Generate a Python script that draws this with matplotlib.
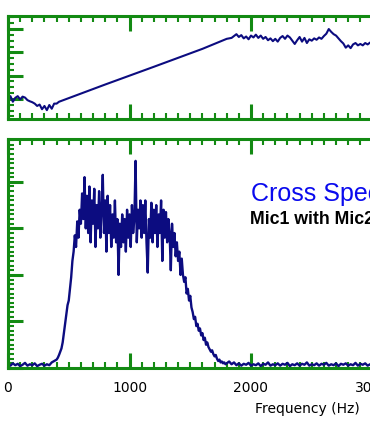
import numpy as np
import matplotlib
matplotlib.use('Agg')
import matplotlib.pyplot as plt
from matplotlib.ticker import MultipleLocator, NullFormatter

# Colours
frame_green = '#138a13'
trace_blue = '#0c0c80'

# ---- Top panel (phase-like trace), values in major-tick units ----
top_head = [-0.05, 0.12, -0.12, 0.05, 0.12, -0.02, 0.1, 0.06, -0.05, -0.1, -0.14,
            -0.2, -0.3, -0.24, -0.44, -0.3, -0.48, -0.26, -0.42, -0.2, -0.2]  # 0..400 step 20
top_ramp_freq = [420, 800, 1200, 1600, 1800]
top_ramp_vals = [-0.12, 0.62, 1.38, 2.15, 2.58]
top_tail = [2.62, 2.7, 2.78, 2.66, 2.74, 2.6, 2.68, 2.56, 2.72, 2.64, 2.76,
            2.62, 2.72, 2.58, 2.66, 2.52, 2.6, 2.48, 2.58, 2.46, 2.62, 2.7,
            2.58, 2.72, 2.64, 2.5, 2.36, 2.52, 2.66, 2.46, 2.62, 2.4, 2.56,
            2.5, 2.6, 2.54, 2.64, 2.58, 2.7, 2.8, 3.0, 2.88, 2.78, 2.72, 2.6,
            2.48, 2.38, 2.2, 2.3, 2.18, 2.34, 2.4, 2.3, 2.36, 2.3, 2.4,
            2.34, 2.42, 2.36, 2.44, 2.38, 2.42, 2.36, 2.4]  # 1840.. step 20

# ---- Bottom panel (cross spectrum magnitude), values in major-tick units ----
floor_lo = [0.08, 0.05, 0.1, 0.06, 0.09, 0.04, 0.07, 0.11, 0.05, 0.08,
            0.06, 0.1, 0.04, 0.07, 0.09, 0.05, 0.08, 0.06, 0.12, 0.15]  # 0..380 step 20
band = [0.18, 0.22, 0.28, 0.35, 0.42, 0.55, 0.75, 0.95, 1.15, 1.35,
        1.45, 1.7, 1.95, 2.3, 2.5, 2.85, 2.6, 3.15, 2.8, 3.4,
        3.1, 3.75, 3.2, 4.1, 3.0, 3.7, 2.9, 3.9, 2.7, 3.6,
        3.1, 3.85, 2.6, 3.5, 3.0, 3.8, 2.8, 3.4, 4.15, 2.9,
        3.6, 2.5, 3.7, 2.9, 3.5, 2.6, 3.3, 2.8, 3.6, 2.7,
        3.2, 2.0, 3.1, 2.6, 3.3, 2.7, 3.2, 2.5, 3.4, 2.8,
        3.3, 2.6, 3.5, 2.9, 3.2, 4.45, 2.7, 3.4, 3.0, 3.6,
        2.8, 3.5, 2.9, 3.6, 2.7, 2.05, 3.2, 2.8, 3.55, 2.7,
        3.4, 2.9, 3.5, 2.6, 3.3, 2.9, 3.6, 2.3, 3.4, 2.8,
        3.35, 2.7, 3.2, 2.9, 2.1, 3.1, 2.6, 2.9, 2.4, 2.7,
        2.3, 2.5, 2.0, 2.35, 2.0, 1.85, 1.95, 1.6, 1.7, 1.45,
        1.55, 1.3, 1.2, 1.05, 1.1, 0.9, 0.95, 0.8, 0.85, 0.7,
        0.75, 0.6, 0.65, 0.5, 0.55, 0.45, 0.4, 0.35, 0.38, 0.3,
        0.25, 0.28, 0.2, 0.15, 0.18, 0.12, 0.14, 0.1, 0.12, 0.08]  # 400.. step 10
floor_hi = [0.1, 0.14, 0.08, 0.12, 0.06, 0.1, 0.05, 0.09, 0.07, 0.11,
            0.05, 0.08, 0.06, 0.1, 0.04, 0.09, 0.07, 0.12, 0.05, 0.08,
            0.06, 0.1, 0.05, 0.09, 0.07, 0.11, 0.04, 0.08, 0.06, 0.1,
            0.05, 0.09, 0.07, 0.12, 0.05, 0.08, 0.06, 0.1, 0.05, 0.09,
            0.07, 0.11, 0.05, 0.08, 0.06, 0.1, 0.04, 0.09, 0.07, 0.1,
            0.05, 0.08, 0.06, 0.11, 0.05, 0.09, 0.07, 0.1, 0.05, 0.08,
            0.06, 0.1, 0.05, 0.09, 0.07]  # 1800.. step 20

tick_labels = ['0', '1000', '2000', '3000']
title_text = 'Cross Spectrum'
subtitle_text = 'Mic1 with Mic2'

top_x = np.concatenate([np.arange(len(top_head)) * 20, top_ramp_freq,
                        1840 + np.arange(len(top_tail)) * 20])
top_y = np.concatenate([top_head, top_ramp_vals, top_tail])

bot_x = np.concatenate([np.arange(len(floor_lo)) * 20,
                        400 + np.arange(len(band)) * 10,
                        1800 + np.arange(len(floor_hi)) * 20])
bot_y = np.concatenate([floor_lo, band, floor_hi])

W, H = 370, 435
fig = plt.figure(figsize=(W / 100, H / 100), dpi=100)

x_max = 3100
px_per_hz = 0.1215
ax_left = 8 / W
ax_width = x_max * px_per_hz / W

ax_top = fig.add_axes([ax_left, 1 - 120 / H, ax_width, 103 / H])
ax_bot = fig.add_axes([ax_left, 1 - 369 / H, ax_width, 229 / H])


def style(ax, y_minor):
    for s in ax.spines.values():
        s.set_color(frame_green)
        s.set_linewidth(2.2)
    ax.xaxis.set_major_locator(MultipleLocator(1000))
    ax.xaxis.set_minor_locator(MultipleLocator(100))
    ax.yaxis.set_major_locator(MultipleLocator(1))
    ax.yaxis.set_minor_locator(MultipleLocator(y_minor))
    ax.tick_params(which='both', direction='in', colors=frame_green,
                   top=True, right=True, labelleft=False)
    ax.tick_params(which='major', length=11, width=2.2)
    ax.tick_params(which='minor', length=4, width=1.5)
    ax.set_xlim(0, x_max)


ax_top.plot(top_x, top_y, color=trace_blue, lw=1.5)
style(ax_top, 0.25)
ax_top.set_ylim(-0.86, 3.56)
ax_top.xaxis.set_major_formatter(NullFormatter())

ax_bot.plot(bot_x, bot_y, color=trace_blue, lw=1.7)
style(ax_bot, 0.1)
ax_bot.set_ylim(0, 4.92)
ax_bot.set_xticks([0, 1000, 2000, 3000])
ax_bot.set_xticklabels(tick_labels, fontsize=10, color='black', family='DejaVu Sans')
ax_bot.tick_params(axis='x', which='major', pad=9, labelcolor='black')

fig.text(251 / W, 1 - 201 / H, title_text, color='#0a0aee', fontsize=18,
         family='Liberation Sans', ha='left', va='baseline')
fig.text(250 / W, 1 - 224 / H, subtitle_text, color='black', fontsize=12.8,
         family='Liberation Sans', fontweight='bold', ha='left', va='baseline')
fig.text(255 / W, 1 - 413 / H, 'Frequency (Hz)', color='black', fontsize=10,
         family='DejaVu Sans', ha='left', va='baseline')

fig.savefig('out.png', dpi=100)
